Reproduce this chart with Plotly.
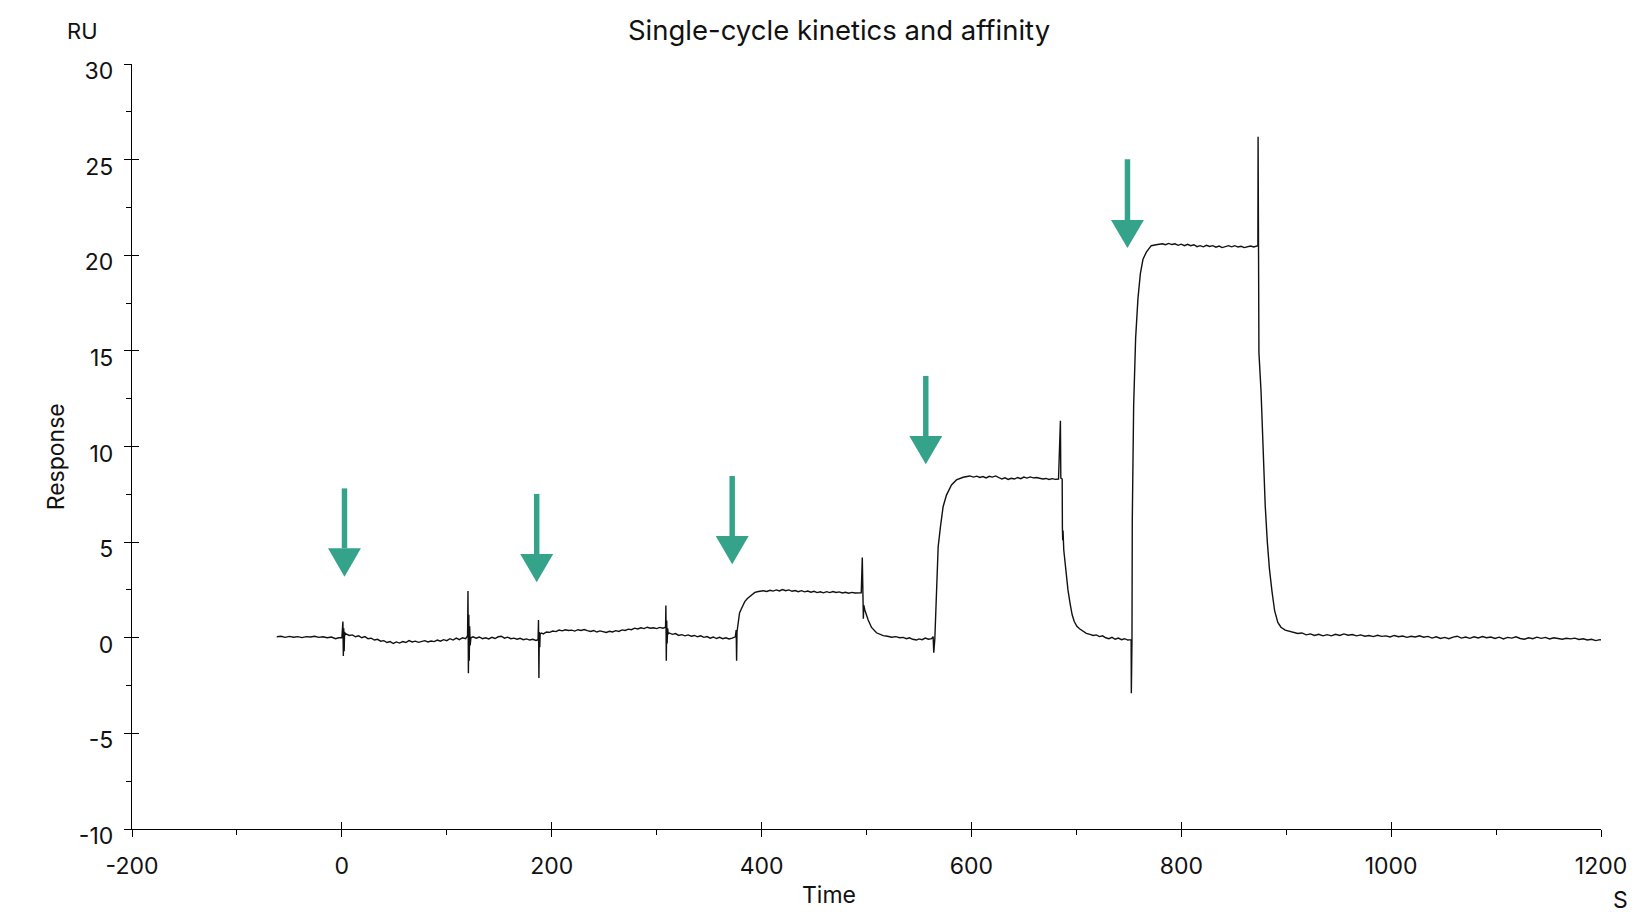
import plotly.graph_objects as go

# ---------------- data ----------------
time_s = [
    -62, -58, -54, -50, -46, -42, -38, -34, -30, -26, -22, -18, -14, -10, -6, -3,
    0.0, 1.0, 1.4, 1.8, 2.2, 2.6, 3.5,
    4, 7, 10, 13, 16, 19, 22, 25, 28, 31, 34, 37, 40, 43, 46, 49, 52, 55, 58, 61, 64, 67, 70,
    73, 76, 79, 82, 85, 88, 91, 94, 97, 100, 103, 106, 109, 112, 115, 118,
    119.8, 120.2, 120.6, 121.0, 121.4, 121.8, 122.3, 123,
    125, 128, 131, 134, 137, 140, 143, 146, 149, 152, 155, 158, 161, 164, 167, 170, 173, 176,
    179, 182, 185, 187,
    187.4, 187.8, 188.2, 188.6, 189, 190,
    192, 195, 198, 201, 204, 207, 210, 213, 216, 219, 222, 225, 228, 231, 234, 237, 240, 243,
    246, 249, 252, 255, 258, 261, 264, 267, 270, 273, 276, 279, 282, 285, 288, 291, 294, 297,
    300, 303, 306,
    308.5, 308.8, 309.2, 309.6, 310, 310.5, 311,
    312, 315, 318, 321, 324, 327, 330, 333, 336, 339, 342, 345, 348, 351, 354, 357, 360, 363,
    366, 369, 372, 375,
    375.8, 376.2, 376.6, 377.8, 379, 381, 384, 386.5, 389, 393.6, 397, 401.6,
    405, 408, 411, 414, 417, 420, 423, 426, 429, 432, 435, 438, 441, 444, 447, 450, 453, 456,
    459, 462, 465, 468, 471, 474, 477, 480, 483, 486, 489, 492, 495,
    496.0, 496.3, 496.6, 497.0, 497.4, 498.4,
    501.6, 504.8, 509.5, 515.9, 520, 524, 528, 531.7, 535, 538, 541, 544, 547.6, 550, 553, 556,
    559, 562, 563.5,
    564.1, 565.1, 566.7, 568.3, 570.5, 573, 576.2, 581, 585.7, 592.1, 598.4,
    602, 605, 608, 611, 614, 617, 620, 623, 626, 629, 632, 635, 638, 641, 644, 647, 650, 653,
    656, 659, 662, 665, 668, 671, 674, 677, 680, 683,
    684.8, 685.2, 686.5, 686.7, 687, 687.3, 688, 689.2, 690.5, 692, 694, 696, 698, 700.5, 703,
    706, 709.5, 713, 716, 719, 722, 725, 728, 731, 734, 737, 740, 743, 746, 749, 751.5,
    752.2, 752.4, 752.7, 753.0, 753.3, 754.6, 756.5, 758.7, 761, 763.5, 766.7, 771.4, 776, 779.4,
    782, 785, 788, 791, 794, 797, 800, 803, 806, 809, 812, 815, 818, 821, 824, 827, 830, 833,
    836, 839, 842, 845, 848, 851, 854, 857, 860, 863, 866, 869, 872,
    873.0, 873.2, 873.5, 873.7, 874, 876, 878, 880, 882, 884, 886.5, 889, 892, 895, 899, 903,
    907, 911, 915, 919, 923, 927, 931, 935,
    939, 943, 947, 951, 955, 959, 963, 967, 971, 975, 979, 983, 987, 991, 995, 999, 1003, 1007,
    1011, 1015, 1019, 1023, 1027, 1031, 1035, 1039, 1043, 1047, 1051, 1055, 1059, 1063, 1067,
    1071, 1075, 1079, 1083, 1087, 1091, 1095, 1099, 1103, 1107, 1111, 1115, 1119, 1123, 1127,
    1131, 1135, 1139, 1143, 1147, 1151, 1155, 1159, 1163, 1167, 1171, 1175, 1179, 1183, 1187,
    1191, 1195, 1199, 1202,
]
response_ru = [
    0.05, 0.08, 0.02, 0.07, 0.03, 0.06, 0.01, 0.06, 0.04, 0.08, 0.02, 0.05, 0.0, 0.04, -0.05, 0.0,
    0.0, 0.85, -0.95, 0.5, -0.7, 0.3, 0.15,
    0.2, 0.12, 0.15, 0.05, 0.1, 0.0, 0.06, -0.05, -0.02, -0.12, -0.08, -0.18, -0.15, -0.25, -0.2,
    -0.3, -0.22, -0.28, -0.2, -0.25, -0.15, -0.22, -0.18,
    -0.24, -0.2, -0.15, -0.22, -0.17, -0.2, -0.12, -0.18, -0.1, -0.15, -0.05, -0.12, -0.02, -0.1,
    0.0, -0.05,
    0.1, 2.45, -1.85, 1.2, -1.2, 0.6, -0.4, 0.0,
    0.05, -0.02, 0.04, -0.05, 0.0, -0.06, 0.02, -0.04, 0.05, 0.08, -0.02, 0.03, -0.05, -0.02,
    -0.08, -0.03, -0.1, -0.06, -0.12, -0.08, -0.14, -0.1,
    0.93, -2.1, 0.3, -0.5, 0.2, 0.25,
    0.2, 0.3, 0.28, 0.35, 0.32, 0.4, 0.36, 0.42, 0.38, 0.4, 0.35, 0.42, 0.38, 0.43, 0.37, 0.33,
    0.38, 0.3, 0.36, 0.32, 0.28, 0.34, 0.3, 0.37, 0.33, 0.41, 0.38, 0.45, 0.42, 0.5, 0.46, 0.52,
    0.48, 0.55, 0.5, 0.52, 0.48, 0.54, 0.5,
    0.55, 1.68, -1.2, 0.9, -0.3, 0.5, 0.2,
    0.25, 0.18, 0.22, 0.12, 0.16, 0.1, 0.15, 0.08, 0.12, 0.05, 0.1, 0.02, 0.06, -0.02, 0.04,
    -0.04, 0.02, -0.05, 0.0, -0.06, -0.02, 0.05,
    0.4, -1.2, 0.3, 1.0, 1.3, 1.54, 1.89, 2.05, 2.18, 2.37, 2.42, 2.46,
    2.42, 2.48, 2.44, 2.5, 2.45, 2.52, 2.46, 2.5, 2.43, 2.47, 2.41, 2.46, 2.4, 2.44, 2.38, 2.43,
    2.36, 2.4, 2.35, 2.41, 2.36, 2.42, 2.37, 2.4, 2.34, 2.38, 2.33, 2.37, 2.34, 2.36, 2.35,
    4.2, 2.3, 3.3, 1.0, 1.7, 1.45,
    0.93, 0.54, 0.26, 0.11, 0.08, 0.03, 0.06, 0.0, 0.02, -0.05, 0.0, -0.08, -0.12, -0.06, -0.1,
    -0.02, -0.08, -0.05, 0.06,
    -0.78, -0.08, 3.02, 4.76, 5.81, 6.85, 7.46, 7.99, 8.25, 8.39, 8.46,
    8.4, 8.45, 8.38, 8.43, 8.36, 8.44, 8.4, 8.46, 8.38, 8.3, 8.36, 8.28, 8.34, 8.3, 8.38, 8.32,
    8.4, 8.35, 8.41, 8.36, 8.38, 8.34, 8.3, 8.33, 8.28, 8.32, 8.28, 8.3,
    11.35, 8.35, 8.3, 5.72, 5.1, 5.6, 4.59, 3.9, 3.37, 2.5, 1.8, 1.2, 0.85, 0.6, 0.47,
    0.35, 0.23, 0.18, 0.12, 0.15, 0.06, 0.1, 0.0, -0.05, 0.02, -0.08, -0.02, -0.1, -0.05, -0.12,
    -0.08,
    -0.1, -2.9, -1.3, -0.2, 6.15, 12.13, 15.68, 17.73, 19.04, 19.79, 20.16, 20.5, 20.55, 20.57,
    20.6, 20.55, 20.62, 20.56, 20.6, 20.52, 20.58, 20.5, 20.57, 20.5, 20.55, 20.45, 20.5, 20.44,
    20.52, 20.46, 20.5, 20.42, 20.48, 20.4, 20.47, 20.5, 20.44, 20.5, 20.43, 20.47, 20.4, 20.45,
    20.48, 20.43, 20.47,
    20.5, 26.2, 20.5, 23.3, 14.9, 12.9, 9.4, 6.9, 5.0, 3.6, 2.4, 1.4, 0.8, 0.55, 0.4, 0.35,
    0.28, 0.22, 0.25, 0.15, 0.2, 0.12, 0.18, 0.1,
    0.16, 0.1, 0.18, 0.12, 0.2, 0.13, 0.17, 0.1, 0.15, 0.08, 0.12, 0.06, 0.13, 0.07, 0.1, 0.04,
    0.12, 0.05, 0.09, 0.02, 0.08, 0.04, 0.1, 0.03, 0.07, -0.02, 0.05, -0.04, 0.02, -0.05, 0.03,
    0.08, -0.02, 0.04, -0.03, 0.05, -0.01, 0.06, 0.0, 0.04, -0.04, 0.03, -0.06, 0.02, -0.02,
    0.05, -0.04, -0.08, 0.0, -0.05, 0.03, -0.03, 0.02, -0.06, 0.0, -0.04, -0.08, -0.03, -0.06,
    -0.02, -0.09, -0.05, -0.12, -0.08, -0.15, -0.1, -0.13,
]

# injection arrows: x position, shaft top, head base, tip (data units)
arrow_t = [2.5, 185.7, 372.0, 556.5, 748.7]
arrow_top = [7.81, 7.52, 8.46, 13.69, 25.02]
arrow_base = [4.68, 4.38, 5.32, 10.55, 21.84]
arrow_tip = [3.19, 2.90, 3.84, 9.07, 20.38]

x_ticks = [-200, 0, 200, 400, 600, 800, 1000, 1200]
x_tick_text = ["-200", "0", "200", "400", "600", "800", "1000", "1200"]
y_ticks = [-10, -5, 0, 5, 10, 15, 20, 25, 30]
y_tick_text = ["-10", "-5", "0", "5", "10", "15", "20", "25", "30"]

TEAL = "#35a38a"
FONT = "Inter"
INK = "#111111"

# ---------------- figure ----------------
fig = go.Figure()
fig.add_trace(go.Scatter(x=time_s, y=response_ru, mode="lines",
                         line=dict(color=INK, width=1.4), hoverinfo="skip",
                         showlegend=False))
# empty trace for overlay axes (inner half of the crossing major ticks)
fig.add_trace(go.Scatter(x=[None], y=[None], xaxis="x2", yaxis="y2", showlegend=False))

shapes = []
SHAFT_HW = 2.6
HEAD_HW = 15.7
for t, top, base, tip in zip(arrow_t, arrow_top, arrow_base, arrow_tip):
    shapes.append(dict(type="rect", xref="x", yref="y", x0=t - SHAFT_HW, x1=t + SHAFT_HW,
                       y0=base, y1=top, fillcolor=TEAL, line=dict(width=0)))
    shapes.append(dict(type="path", xref="x", yref="y",
                       path=f"M {t - HEAD_HW},{base} L {t + HEAD_HW},{base} L {t},{tip} Z",
                       fillcolor=TEAL, line=dict(width=0)))

OFF = 8  # page body margin
W, H = 1645, 912
# plot-area edges in screen pixels
L, R, T, B = 131.7 - OFF, 1601.0 - OFF, 64.0 - OFF, 829.0 - OFF


def px(x):
    return (x - OFF - L) / (R - L)


def py(y):
    return (B - (y - OFF)) / (B - T)


axis_common = dict(showline=True, linecolor="black", linewidth=1.3, showgrid=False,
                   zeroline=False, ticks="outside", ticklen=7, tickwidth=1.3,
                   tickcolor="black", tickfont=dict(family=FONT, size=23, color=INK))

fig.update_layout(
    width=W, height=H,
    margin=dict(l=L, r=W - R, t=T, b=H - B, pad=0),
    plot_bgcolor="white", paper_bgcolor="white",
    shapes=shapes,
    title=dict(text="Single-cycle kinetics and affinity", x=(839 - OFF) / W, xref="container",
               xanchor="center", y=1 - (30 - OFF) / H, yref="container", yanchor="middle",
               font=dict(family=FONT, size=27.5, color=INK)),
    xaxis=dict(range=[-200, 1200], tickvals=x_ticks, ticktext=x_tick_text, ticklabelstandoff=9,
               minor=dict(dtick=100, ticks="outside", ticklen=5, tickwidth=1.2, tickcolor="black"),
               **axis_common),
    yaxis=dict(range=[-10, 30], tickvals=y_ticks, ticktext=y_tick_text, ticklabelstandoff=6,
               ticklabelshift=7,
               minor=dict(dtick=2.5, ticks="outside", ticklen=5, tickwidth=1.2, tickcolor="black"),
               **axis_common),
    xaxis2=dict(overlaying="x", matches="x", anchor="y2", range=[-200, 1200], tickvals=x_ticks,
                ticks="inside", ticklen=7, tickwidth=1.3, tickcolor="black",
                showticklabels=False, showline=False, showgrid=False, zeroline=False, side="bottom"),
    yaxis2=dict(overlaying="y", matches="y", anchor="x2", range=[-10, 30], tickvals=y_ticks,
                ticks="inside", ticklen=7, tickwidth=1.3, tickcolor="black",
                showticklabels=False, showline=False, showgrid=False, zeroline=False, side="left"),
    annotations=[
        dict(text="RU", x=px(82), y=py(31), xref="paper", yref="paper", showarrow=False,
             xanchor="center", yanchor="middle", font=dict(family=FONT, size=22, color=INK)),
        dict(text="S", x=px(1621), y=py(900), xref="paper", yref="paper", showarrow=False,
             xanchor="center", yanchor="middle", font=dict(family=FONT, size=23, color=INK)),
        dict(text="Time", x=px(829), y=py(895), xref="paper", yref="paper", showarrow=False,
             xanchor="center", yanchor="middle", font=dict(family=FONT, size=23, color=INK)),
        dict(text="Response", x=px(56), y=py(457), xref="paper", yref="paper", showarrow=False,
             textangle=-90, xanchor="center", yanchor="middle",
             font=dict(family=FONT, size=23, color=INK)),
    ],
)

fig.write_html("out.html")
